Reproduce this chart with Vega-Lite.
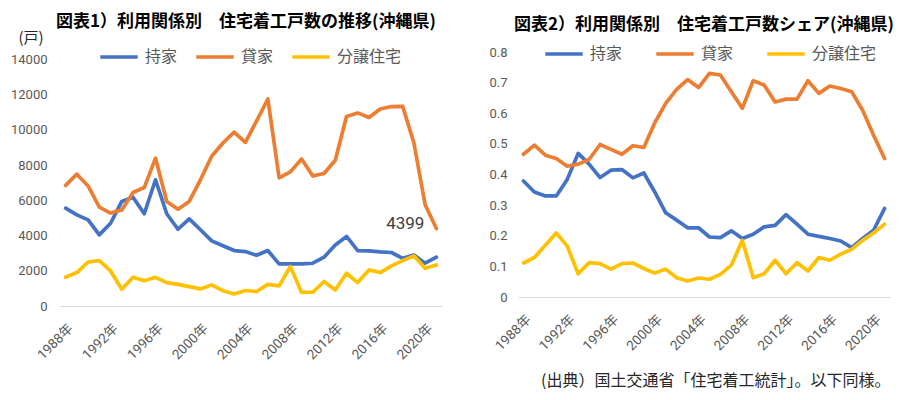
{
  "$schema": "https://vega.github.io/schema/vega-lite/v6.json",
  "padding": {"left": 10, "top": 13, "right": 5, "bottom": 5},
  "spacing": 46,
  "config": {
    "font": "Noto Sans CJK JP",
    "view": {"stroke": null},
    "axis": {
      "labelFont": "Roboto, Noto Sans CJK JP",
      "labelFontSize": 13,
      "labelColor": "#595959",
      "labelOverlap": false,
      "ticks": false,
      "grid": false
    },
    "title": {"fontSize": 17, "fontWeight": "bold", "color": "#000000", "frame": "group", "anchor": "middle"},
    "legend": {
      "orient": "none",
      "direction": "horizontal",
      "columns": 3,
      "symbolType": "stroke",
      "symbolStrokeWidth": 4,
      "symbolSize": 1400,
      "labelFontSize": 16,
      "labelColor": "#595959",
      "labelOffset": 5,
      "padding": 0
    },
    "line": {"strokeWidth": 3.7, "strokeCap": "round", "strokeJoin": "round"}
  },
  "data": {
    "values": [
      {"year": "1988年", "type": "持家", "count": 5560, "share": 0.379},
      {"year": "1988年", "type": "貸家", "count": 6850, "share": 0.466},
      {"year": "1988年", "type": "分譲住宅", "count": 1630, "share": 0.111},
      {"year": "1989年", "type": "持家", "count": 5180, "share": 0.343},
      {"year": "1989年", "type": "貸家", "count": 7490, "share": 0.496},
      {"year": "1989年", "type": "分譲住宅", "count": 1900, "share": 0.129},
      {"year": "1990年", "type": "持家", "count": 4890, "share": 0.330},
      {"year": "1990年", "type": "貸家", "count": 6820, "share": 0.463},
      {"year": "1990年", "type": "分譲住宅", "count": 2500, "share": 0.169},
      {"year": "1991年", "type": "持家", "count": 4040, "share": 0.330},
      {"year": "1991年", "type": "貸家", "count": 5620, "share": 0.452},
      {"year": "1991年", "type": "分譲住宅", "count": 2580, "share": 0.209},
      {"year": "1992年", "type": "持家", "count": 4700, "share": 0.384},
      {"year": "1992年", "type": "貸家", "count": 5280, "share": 0.427},
      {"year": "1992年", "type": "分譲住宅", "count": 1990, "share": 0.166},
      {"year": "1993年", "type": "持家", "count": 5940, "share": 0.469},
      {"year": "1993年", "type": "貸家", "count": 5460, "share": 0.434},
      {"year": "1993年", "type": "分譲住宅", "count": 950, "share": 0.076},
      {"year": "1994年", "type": "持家", "count": 6180, "share": 0.434},
      {"year": "1994年", "type": "貸家", "count": 6450, "share": 0.449},
      {"year": "1994年", "type": "分譲住宅", "count": 1630, "share": 0.112},
      {"year": "1995年", "type": "持家", "count": 5240, "share": 0.390},
      {"year": "1995年", "type": "貸家", "count": 6730, "share": 0.498},
      {"year": "1995年", "type": "分譲住宅", "count": 1440, "share": 0.109},
      {"year": "1996年", "type": "持家", "count": 7170, "share": 0.414},
      {"year": "1996年", "type": "貸家", "count": 8400, "share": 0.482},
      {"year": "1996年", "type": "分譲住宅", "count": 1630, "share": 0.091},
      {"year": "1997年", "type": "持家", "count": 5240, "share": 0.416},
      {"year": "1997年", "type": "貸家", "count": 5940, "share": 0.466},
      {"year": "1997年", "type": "分譲住宅", "count": 1330, "share": 0.109},
      {"year": "1998年", "type": "持家", "count": 4360, "share": 0.389},
      {"year": "1998年", "type": "貸家", "count": 5500, "share": 0.494},
      {"year": "1998年", "type": "分譲住宅", "count": 1230, "share": 0.111},
      {"year": "1999年", "type": "持家", "count": 4950, "share": 0.405},
      {"year": "1999年", "type": "貸家", "count": 5940, "share": 0.488},
      {"year": "1999年", "type": "分譲住宅", "count": 1100, "share": 0.093},
      {"year": "2000年", "type": "持家", "count": 4330, "share": 0.343},
      {"year": "2000年", "type": "貸家", "count": 7170, "share": 0.569},
      {"year": "2000年", "type": "分譲住宅", "count": 970, "share": 0.078},
      {"year": "2001年", "type": "持家", "count": 3700, "share": 0.275},
      {"year": "2001年", "type": "貸家", "count": 8510, "share": 0.632},
      {"year": "2001年", "type": "分譲住宅", "count": 1200, "share": 0.091},
      {"year": "2002年", "type": "持家", "count": 3420, "share": 0.251},
      {"year": "2002年", "type": "貸家", "count": 9260, "share": 0.678},
      {"year": "2002年", "type": "分譲住宅", "count": 870, "share": 0.063},
      {"year": "2003年", "type": "持家", "count": 3150, "share": 0.226},
      {"year": "2003年", "type": "貸家", "count": 9880, "share": 0.710},
      {"year": "2003年", "type": "分譲住宅", "count": 680, "share": 0.052},
      {"year": "2004年", "type": "持家", "count": 3090, "share": 0.226},
      {"year": "2004年", "type": "貸家", "count": 9300, "share": 0.684},
      {"year": "2004年", "type": "分譲住宅", "count": 880, "share": 0.062},
      {"year": "2005年", "type": "持家", "count": 2880, "share": 0.196},
      {"year": "2005年", "type": "貸家", "count": 10520, "share": 0.730},
      {"year": "2005年", "type": "分譲住宅", "count": 820, "share": 0.058},
      {"year": "2006年", "type": "持家", "count": 3150, "share": 0.194},
      {"year": "2006年", "type": "貸家", "count": 11760, "share": 0.725},
      {"year": "2006年", "type": "分譲住宅", "count": 1230, "share": 0.074},
      {"year": "2007年", "type": "持家", "count": 2390, "share": 0.216},
      {"year": "2007年", "type": "貸家", "count": 7280, "share": 0.670},
      {"year": "2007年", "type": "分譲住宅", "count": 1140, "share": 0.104},
      {"year": "2008年", "type": "持家", "count": 2390, "share": 0.191},
      {"year": "2008年", "type": "貸家", "count": 7620, "share": 0.616},
      {"year": "2008年", "type": "分譲住宅", "count": 2240, "share": 0.185},
      {"year": "2009年", "type": "持家", "count": 2390, "share": 0.205},
      {"year": "2009年", "type": "貸家", "count": 8350, "share": 0.706},
      {"year": "2009年", "type": "分譲住宅", "count": 770, "share": 0.063},
      {"year": "2010年", "type": "持家", "count": 2430, "share": 0.229},
      {"year": "2010年", "type": "貸家", "count": 7390, "share": 0.692},
      {"year": "2010年", "type": "分譲住宅", "count": 780, "share": 0.076},
      {"year": "2011年", "type": "持家", "count": 2770, "share": 0.234},
      {"year": "2011年", "type": "貸家", "count": 7530, "share": 0.637},
      {"year": "2011年", "type": "分譲住宅", "count": 1390, "share": 0.120},
      {"year": "2012年", "type": "持家", "count": 3470, "share": 0.269},
      {"year": "2012年", "type": "貸家", "count": 8280, "share": 0.646},
      {"year": "2012年", "type": "分譲住宅", "count": 910, "share": 0.076},
      {"year": "2013年", "type": "持家", "count": 3950, "share": 0.238},
      {"year": "2013年", "type": "貸家", "count": 10770, "share": 0.646},
      {"year": "2013年", "type": "分譲住宅", "count": 1860, "share": 0.112},
      {"year": "2014年", "type": "持家", "count": 3150, "share": 0.205},
      {"year": "2014年", "type": "貸家", "count": 10970, "share": 0.706},
      {"year": "2014年", "type": "分譲住宅", "count": 1330, "share": 0.085},
      {"year": "2015年", "type": "持家", "count": 3130, "share": 0.198},
      {"year": "2015年", "type": "貸家", "count": 10710, "share": 0.665},
      {"year": "2015年", "type": "分譲住宅", "count": 2050, "share": 0.129},
      {"year": "2016年", "type": "持家", "count": 3070, "share": 0.191},
      {"year": "2016年", "type": "貸家", "count": 11190, "share": 0.689},
      {"year": "2016年", "type": "分譲住宅", "count": 1900, "share": 0.120},
      {"year": "2017年", "type": "持家", "count": 3040, "share": 0.183},
      {"year": "2017年", "type": "貸家", "count": 11330, "share": 0.681},
      {"year": "2017年", "type": "分譲住宅", "count": 2280, "share": 0.140},
      {"year": "2018年", "type": "持家", "count": 2710, "share": 0.161},
      {"year": "2018年", "type": "貸家", "count": 11340, "share": 0.670},
      {"year": "2018年", "type": "分譲住宅", "count": 2580, "share": 0.156},
      {"year": "2019年", "type": "持家", "count": 2900, "share": 0.191},
      {"year": "2019年", "type": "貸家", "count": 9260, "share": 0.610},
      {"year": "2019年", "type": "分譲住宅", "count": 2850, "share": 0.185},
      {"year": "2020年", "type": "持家", "count": 2430, "share": 0.218},
      {"year": "2020年", "type": "貸家", "count": 5750, "share": 0.528},
      {"year": "2020年", "type": "分譲住宅", "count": 2140, "share": 0.209},
      {"year": "2021年", "type": "持家", "count": 2770, "share": 0.289},
      {"year": "2021年", "type": "貸家", "count": 4399, "share": 0.452},
      {"year": "2021年", "type": "分譲住宅", "count": 2330, "share": 0.238}
    ]
  },
  "resolve": {"scale": {"color": "independent"}, "legend": {"color": "independent"}},
  "hconcat": [
    {
      "width": 382,
      "height": 254,
      "title": {"text": "図表1）利用関係別　住宅着工戸数の推移(沖縄県)", "offset": -1, "dx": -5},
      "encoding": {
        "x": {
          "field": "year",
          "type": "ordinal",
          "sort": null,
          "scale": {"type": "point", "padding": 0.5},
          "axis": {
            "title": null,
            "values": ["1988年", "1992年", "1996年", "2000年", "2004年", "2008年", "2012年", "2016年", "2020年"],
            "labelAngle": -45,
            "labelFontSize": 13.5,
            "labelPadding": 15,
            "labelOverlap": false,
            "domainColor": "#d9d9d9"
          }
        },
        "y": {
          "field": "count",
          "type": "quantitative",
          "scale": {"domain": [0, 14430], "nice": false},
          "axis": {
            "values": [0, 2000, 4000, 6000, 8000, 10000, 12000, 14000],
            "format": "d",
            "domain": false,
            "labelOverlap": false,
            "labelPadding": 13,
            "title": "(戸)",
            "titleAngle": 0,
            "titleX": -42,
            "titleY": -22,
            "titleAlign": "left",
            "titleBaseline": "top",
            "titleFontSize": 15,
            "titleFontWeight": "normal",
            "titleColor": "#262626"
          }
        }
      },
      "layer": [
        {
          "mark": "line",
          "encoding": {
            "color": {
              "field": "type",
              "type": "nominal",
              "sort": null,
              "scale": {"domain": ["持家", "貸家", "分譲住宅"], "range": ["#4472C4", "#ED7D31", "#FFC000"]},
              "legend": {"title": null, "legendX": 38, "legendY": -16, "columnPadding": 16}
            }
          }
        },
        {
          "transform": [{"filter": "datum.year == '2021年' && datum.type == '貸家'"}],
          "mark": {"type": "text", "align": "right", "baseline": "middle", "dx": -12, "dy": -5, "fontSize": 17, "font": "Roboto", "color": "#404040"},
          "encoding": {
            "text": {"field": "count", "type": "quantitative", "format": "d"}
          }
        }
      ]
    },
    {
      "width": 372,
      "height": 245,
      "title": {"text": "図表2）利用関係別　住宅着工戸数シェア(沖縄県)", "offset": -1},
      "mark": "line",
      "encoding": {
        "x": {
          "field": "year",
          "type": "ordinal",
          "sort": null,
          "scale": {"type": "point", "padding": 0.5},
          "axis": {
            "title": "(出典）国土交通省「住宅着工統計」。以下同様。",
            "titleAnchor": "end",
            "titleFontSize": 16,
            "titleFontWeight": "normal",
            "titleColor": "#262626",
            "titlePadding": 20,
            "values": ["1988年", "1992年", "1996年", "2000年", "2004年", "2008年", "2012年", "2016年", "2020年"],
            "labelAngle": -45,
            "labelFontSize": 13.5,
            "labelPadding": 15,
            "labelOverlap": false,
            "domainColor": "#d9d9d9"
          }
        },
        "y": {
          "field": "share",
          "type": "quantitative",
          "scale": {"domain": [0, 0.8], "nice": false},
          "axis": {
            "values": [0, 0.1, 0.2, 0.3, 0.4, 0.5, 0.6, 0.7, 0.8],
            "format": ".1~f",
            "domain": false,
            "labelOverlap": false,
            "labelPadding": 11,
            "title": null
          }
        },
        "color": {
          "field": "type",
          "type": "nominal",
          "sort": null,
          "scale": {"domain": ["持家", "貸家", "分譲住宅"], "range": ["#4472C4", "#ED7D31", "#FFC000"]},
          "legend": {"title": null, "legendX": 25, "legendY": -19, "columnPadding": 31}
        }
      }
    }
  ]
}
